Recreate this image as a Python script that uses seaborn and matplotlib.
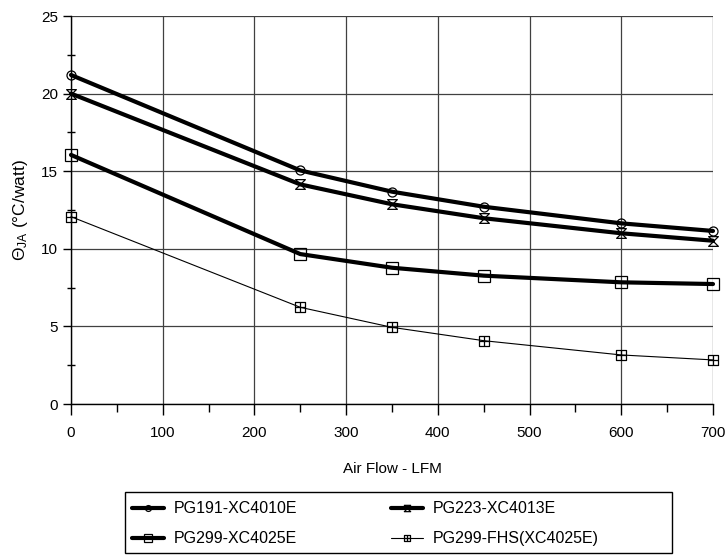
import numpy as np
import pandas as pd
import seaborn as sns
import matplotlib.pyplot as plt
from matplotlib.path import Path
from matplotlib.patches import Rectangle
from matplotlib.ticker import MultipleLocator

# data
air_flow = [0, 250, 350, 450, 600, 700]
pg191 = [21.2, 15.05, 13.68, 12.71, 11.64, 11.15]
pg223 = [20.0, 14.15, 12.87, 11.97, 11.0, 10.52]
pg299 = [16.05, 9.66, 8.78, 8.27, 7.84, 7.73]
pg299_fhs = [12.07, 6.23, 4.94, 4.08, 3.16, 2.84]
labels = ['PG191-XC4010E', 'PG223-XC4013E', 'PG299-XC4025E', 'PG299-FHS(XC4025E)']

sns.set_style('white')
plt.rcParams['font.family'] = ['Liberation Sans', 'DejaVu Sans']
plt.rcParams['mathtext.fontset'] = 'custom'
plt.rcParams['mathtext.rm'] = 'Liberation Sans'
plt.rcParams['mathtext.it'] = 'Liberation Sans'
plt.rcParams['text.color'] = 'black'
plt.rcParams['axes.labelcolor'] = 'black'

# custom markers
hourglass = Path([(-1, 1), (1, 1), (-1, -1), (1, -1), (-1, 1)],
                 [Path.MOVETO, Path.LINETO, Path.LINETO, Path.LINETO, Path.CLOSEPOLY])
boxplus = Path([(-1, -1), (1, -1), (1, 1), (-1, 1), (-1, -1),
                (0, -1), (0, 1), (-1, 0), (1, 0)],
               [Path.MOVETO, Path.LINETO, Path.LINETO, Path.LINETO, Path.CLOSEPOLY,
                Path.MOVETO, Path.LINETO, Path.MOVETO, Path.LINETO])

series = [pg191, pg223, pg299, pg299_fhs]
markers = ['o', hourglass, 's', boxplus]
msizes = [6.5, 7, 8, 6.5]
widths = [3, 3, 3, 0.8]

fig = plt.figure(figsize=(7.27, 5.59), dpi=100)
ax = fig.add_axes([71 / 727, 1 - 404 / 559, 642 / 727, 388 / 559])

for vals, lab, mk, ms, lw in zip(series, labels, markers, msizes, widths):
    df = pd.DataFrame({'Air Flow': air_flow, 'Theta': vals})
    sns.lineplot(data=df, x='Air Flow', y='Theta', ax=ax, color='black', linewidth=lw,
                 marker=mk, markersize=ms, markerfacecolor='none', markeredgecolor='black',
                 markeredgewidth=0.9, label=lab, clip_on=False)

ax.set_xlim(0, 700)
ax.set_ylim(0, 25)
ax.xaxis.set_major_locator(MultipleLocator(100))
ax.xaxis.set_minor_locator(MultipleLocator(50))
ax.yaxis.set_major_locator(MultipleLocator(5))
ax.yaxis.set_minor_locator(MultipleLocator(2.5))
ax.grid(True, which='major', color='#404040', linewidth=0.9)
ax.tick_params(which='major', direction='out', length=6, width=1, colors='black', labelsize=11)
ax.tick_params(which='minor', direction='inout', length=6, width=1, colors='black')
ax.tick_params(axis='x', which='major', length=8, pad=8)
ax.tick_params(axis='x', which='minor', direction='out', length=6)
ax.tick_params(axis='both', which='both', bottom=True, left=True)
for side in ['top', 'right']:
    ax.spines[side].set_visible(False)
for side in ['left', 'bottom']:
    ax.spines[side].set_color('black')
    ax.spines[side].set_linewidth(1)

ax.set_xlabel('Air Flow - LFM', fontsize=11, labelpad=16)
ax.set_ylabel(r'$\Theta_{JA}$ (°C/watt)', fontsize=12.5, labelpad=8)

# legend: row-wise order, frame drawn as a separate box
ax.get_legend().remove()
handles, labs = ax.get_legend_handles_labels()
order = [0, 2, 1, 3]
leg = fig.legend([handles[i] for i in order], [labs[i] for i in order],
                 loc='upper left', ncol=2, bbox_to_anchor=(129 / 727, 1 - 498 / 559),
                 frameon=False, fontsize=11.5, handlelength=2.0, handletextpad=0.6,
                 columnspacing=5.9, labelspacing=0.95, borderaxespad=0, borderpad=0.2,
                 markerscale=0.65, labelcolor='black')
fig.patches.append(Rectangle((125 / 727, 1 - 553 / 559), 547 / 727, 61 / 559,
                             transform=fig.transFigure, fill=False,
                             edgecolor='black', linewidth=1))

fig.savefig('out.png', dpi=100)
